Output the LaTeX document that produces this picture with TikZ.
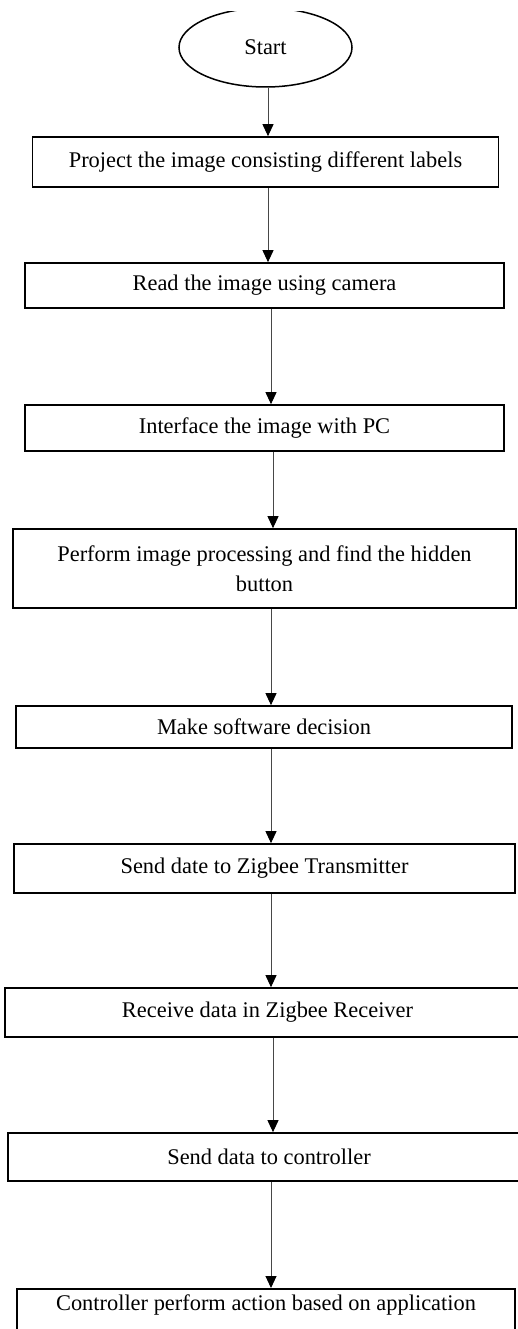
\documentclass[tikz,border=0pt]{standalone}
\usepackage{fontspec}
\setmainfont{Liberation Serif}
\usetikzlibrary{shapes.geometric,arrows.meta}
\begin{document}
\begin{tikzpicture}[x=1pt,y=-1pt,
  txt/.style={font=\fontsize{22.4}{30}\selectfont},
  box/.style={txt,draw=black,line width=1.7pt,rectangle,inner sep=0pt,align=center},
  startnode/.style={txt,draw=black,line width=1.5pt,ellipse,inner sep=0pt,minimum width=173pt,minimum height=79pt},
  flow/.style={draw=black!72,line width=1pt,-{Triangle[width=11pt,length=12pt,color=black]}}]
\clip (0,0) rectangle (518,1329);
\begin{scope}
\clip (0,12) rectangle (518,120);
\node[startnode] (start) at (265.5,47.5) {Start};
\end{scope}
\node[box,minimum width=466pt,minimum height=50pt] (b1) at (265.5,162) {Project the image consisting different labels};
\node[box,minimum width=479pt,minimum height=45pt] (b2) at (264.5,285.5) {Read the image using camera};
\node[box,minimum width=479pt,minimum height=46pt] (b3) at (264.5,428) {Interface the image with PC};
\node[box,minimum width=503pt,minimum height=79pt] (b4) at (264.5,568.5) {Perform image processing and find the hidden\\button};
\node[box,minimum width=496pt,minimum height=42pt] (b5) at (264,727) {Make software decision};
\node[box,minimum width=501pt,minimum height=49pt] (b6) at (264.5,868.5) {Send date to Zigbee Transmitter};
\node[box,minimum width=525pt,minimum height=49pt] (b7) at (267.5,1012.5) {Receive data in Zigbee Receiver};
\node[box,minimum width=522pt,minimum height=48pt] (b8) at (269,1157) {Send data to controller};
\node[box,minimum width=498pt,minimum height=80pt,text height=22pt,text depth=58pt,anchor=north] (b9) at (266,1288) {Controller perform action based on application};
\coordinate (x1) at (268,0);
\coordinate (x2) at (268,0);
\coordinate (x3) at (271,0);
\coordinate (x4) at (273,0);
\coordinate (x5) at (271,0);
\coordinate (x6) at (271,0);
\coordinate (x7) at (271,0);
\coordinate (x8) at (273,0);
\coordinate (x9) at (271,0);
\draw[flow] (start.south -| x1) -- (b1.north -| x1);
\draw[flow] (b1.south -| x2) -- (b2.north -| x2);
\draw[flow] (b2.south -| x3) -- (b3.north -| x3);
\draw[flow] (b3.south -| x4) -- (b4.north -| x4);
\draw[flow] (b4.south -| x5) -- (b5.north -| x5);
\draw[flow] (b5.south -| x6) -- (b6.north -| x6);
\draw[flow] (b6.south -| x7) -- (b7.north -| x7);
\draw[flow] (b7.south -| x8) -- (b8.north -| x8);
\draw[flow] (b8.south -| x9) -- (b9.north -| x9);
\end{tikzpicture}
\end{document}
